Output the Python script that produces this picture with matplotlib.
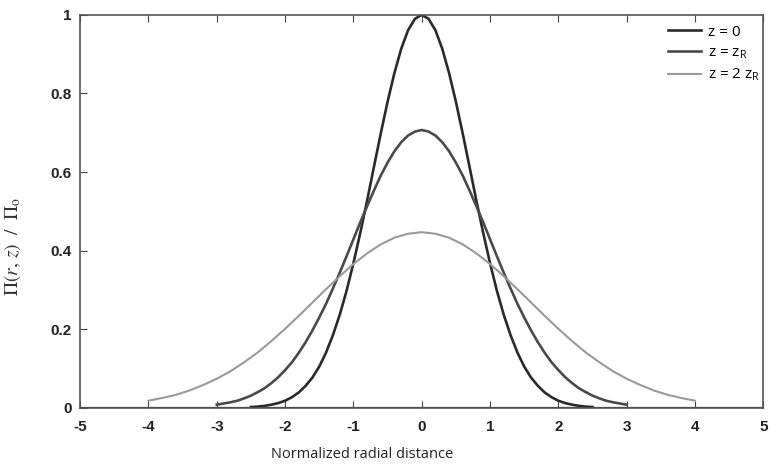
import matplotlib.pyplot as plt
from matplotlib.ticker import FuncFormatter

plt.rcParams["mathtext.fontset"] = "stix"
plt.rcParams["axes.unicode_minus"] = False

# Half profiles (r >= 0); the curves are symmetric about r = 0
r0_half = [0.0, 0.1, 0.2, 0.3, 0.4, 0.5, 0.6, 0.7, 0.8, 0.9, 1.0, 1.1, 1.2, 1.3,
           1.4, 1.5, 1.6, 1.7, 1.8, 1.9, 2.0, 2.1, 2.2, 2.3, 2.4, 2.5]
p0_half = [1.0, 0.990, 0.961, 0.914, 0.852, 0.779, 0.698, 0.613, 0.527, 0.445, 0.368,
           0.298, 0.237, 0.185, 0.141, 0.105, 0.077, 0.056, 0.039, 0.027, 0.018,
           0.012, 0.008, 0.005, 0.003, 0.002]

r1_half = [0.0, 0.1, 0.2, 0.3, 0.4, 0.5, 0.6, 0.7, 0.8, 0.9, 1.0, 1.1, 1.2, 1.3, 1.4,
           1.5, 1.6, 1.7, 1.8, 1.9, 2.0, 2.1, 2.2, 2.3, 2.4, 2.5, 2.6, 2.7, 2.8, 2.9, 3.0]
p1_half = [0.707, 0.703, 0.693, 0.676, 0.653, 0.624, 0.591, 0.553, 0.513, 0.472, 0.429,
           0.386, 0.344, 0.304, 0.265, 0.230, 0.197, 0.167, 0.140, 0.116, 0.096, 0.078,
           0.063, 0.050, 0.040, 0.031, 0.024, 0.018, 0.014, 0.011, 0.008]

r2_half = [0.0, 0.2, 0.4, 0.6, 0.8, 1.0, 1.2, 1.4, 1.6, 1.8, 2.0, 2.2, 2.4, 2.6, 2.8,
           3.0, 3.2, 3.4, 3.6, 3.8, 4.0]
p2_half = [0.447, 0.443, 0.433, 0.416, 0.393, 0.366, 0.335, 0.302, 0.268, 0.234, 0.201,
           0.170, 0.141, 0.116, 0.093, 0.074, 0.058, 0.044, 0.033, 0.025, 0.018]

labels = ["z = 0", "z = z$_\\mathregular{R}$", "z = 2 z$_\\mathregular{R}$"]
colors = ["#2a2a2a", "#4a4a4a", "#9a9a9a"]


def mirror(r, p):
    return [-v for v in r[:0:-1]] + r, p[:0:-1] + p


fig = plt.figure(figsize=(7.71, 4.65), dpi=100)
ax = fig.add_axes([0.104, 0.123, 0.886, 0.845])

ax.axhline(0, color="#333333", lw=1.6)
for (r, p), c, lw, lab in zip([(r0_half, p0_half), (r1_half, p1_half), (r2_half, p2_half)],
                              colors, [1.9, 1.9, 1.5], labels):
    x, y = mirror(r, p)
    ax.plot(x, y, color=c, lw=lw, label=lab)

ax.set_xlim(-5, 5)
ax.set_ylim(0, 1)
ax.set_xticks(range(-5, 6))
ax.set_yticks([0, 0.2, 0.4, 0.6, 0.8, 1.0])
ax.yaxis.set_major_formatter(FuncFormatter(lambda v, p: "%g" % v))
ax.tick_params(direction="in", length=5, top=True, right=False, colors="#444444",
               labelcolor="#222222", labelsize=11)
ax.tick_params(axis="x", pad=9)
ax.tick_params(axis="y", pad=6)
for lab in ax.get_xticklabels() + ax.get_yticklabels():
    lab.set_fontweight("bold")
    lab.set_family("Liberation Sans")
for s in ax.spines.values():
    s.set_color("#555555")
    s.set_linewidth(1.2)

ax.set_xlabel("Normalized radial distance", fontsize=10.5, color="#222222", family="Open Sans")
ax.xaxis.set_label_coords(0.413, -0.1)
ax.set_ylabel(r"$\Pi(r,\,z)\ \ /\ \ \Pi_{\mathrm{o}}$", fontsize=14, color="#333333")
ax.yaxis.set_label_coords(-0.083, 0.41)

ax.legend(loc="upper right", frameon=False, handlelength=2.2, handletextpad=0.4,
          labelspacing=0.4, prop={"family": "Open Sans", "size": 11},
          bbox_to_anchor=(1.015, 1.01))

fig.savefig("out.png", dpi=100)
